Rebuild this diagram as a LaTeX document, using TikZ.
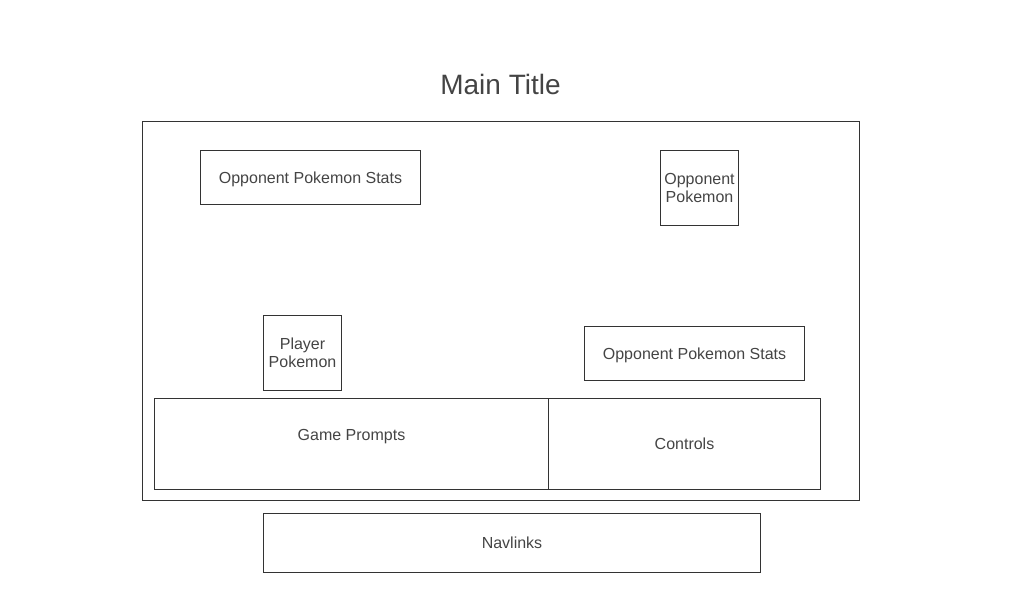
\documentclass[tikz,border=0pt]{standalone}
\usepackage{fontspec}
\setmainfont{Liberation Sans}
\usepackage{tikz}
\usetikzlibrary{positioning}

\definecolor{linegray}{HTML}{333333}
\definecolor{textgray}{HTML}{444444}

\begin{document}
\begin{tikzpicture}[
			x=1pt, y=-1pt
			,every node/.append style={text=textgray, font=\fontsize{16}{18}\selectfont, inner sep=0pt}
			,box/.style={draw=linegray, line width=1pt, align=center, text depth=0pt}
			,boxwh/.style 2 args={box, minimum width=#1pt, minimum height=#2pt}
		]
			\useasboundingbox (0,0) rectangle (1024,600);
			\node [font=\fontsize{28}{32}\selectfont] (title) at (500.5,84.5) {Main Title};
			\node [boxwh={717}{379}] (frame) at (501,311) {};
			\node [boxwh={220}{54}] (oppstatstop) at (310.5,177.5) {Opponent Pokemon Stats};
			\node [boxwh={78}{75}] (opppoke) at (699.5,188) {Opponent\\Pokemon};
			\node [boxwh={78}{75}] (playerpoke) at (302.5,353) {Player\\Pokemon};
			\node [boxwh={220}{54}] (oppstatsbot) at (694.5,353.5) {Opponent Pokemon Stats};
			\node [boxwh={394}{91}, label={[anchor=center, yshift=-38.5pt]north:Game Prompts}] (prompts) at (351.5,444) {};
			\node [boxwh={272}{91}] (controls) at (684.5,444) {Controls};
			\node [boxwh={497}{59}] (navlinks) at (512,543) {Navlinks};
		\end{tikzpicture}
\end{document}
